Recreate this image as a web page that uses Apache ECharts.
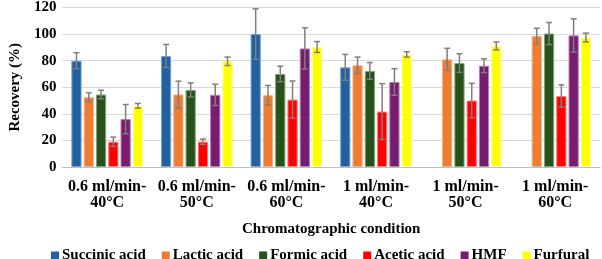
<!DOCTYPE html>
<html>
<head>
<meta charset="utf-8">
<script src="https://cdn.jsdelivr.net/npm/echarts@6/dist/echarts.min.js"></script>
<style>
  html, body { margin: 0; padding: 0; background: #fff; }
  #chart { width: 602px; height: 259px; }
</style>
</head>
<body>
<div id="chart"></div>
<script>
// 数据
const categories = [
  '0.6 ml/min-\n40°C', '0.6 ml/min-\n50°C', '0.6 ml/min-\n60°C',
  '1 ml/min-\n40°C', '1 ml/min-\n50°C', '1 ml/min-\n60°C'
];
const yTicks = [0, 20, 40, 60, 80, 100, 120];

const succinic = [80, 83.5, 100, 75, null, null];
const succinicErr = [6, 8.7, 19, 9.7, null, null];
const lactic = [52.5, 54.6, 54, 76.5, 81, 98.6];
const lacticErr = [3.3, 10, 7.4, 6.2, 8.3, 5.8];
const formic = [54.5, 58, 70, 72.3, 78.2, 100.4];
const formicErr = [3.2, 5.3, 5.8, 6.3, 7, 8.3];
const acetic = [19, 19, 50.7, 41.7, 50, 53.4];
const aceticErr = [3.5, 2, 14, 21, 13, 8.4];
const hmf = [36, 54.3, 89.2, 64, 76.2, 99];
const hmfErr = [11, 8, 15.5, 10, 5.2, 12.5];
const furfural = [46, 79.5, 90.3, 84.7, 91.1, 97.4];
const furfuralErr = [1.8, 3.2, 4.1, 2, 3, 3.3];

const seriesDefs = [
  { name: 'Succinic acid', values: succinic, err: succinicErr, color: '#245F9E', border: '#6FA8DC' },
  { name: 'Lactic acid', values: lactic, err: lacticErr, color: '#ED7D31', border: '#F4B183' },
  { name: 'Formic acid', values: formic, err: formicErr, color: '#27511A', border: '#7FA874' },
  { name: 'Acetic acid', values: acetic, err: aceticErr, color: '#FF0000', border: '#FF8080' },
  { name: 'HMF', values: hmf, err: hmfErr, color: '#781C6F', border: '#B880B2' },
  { name: 'Furfural', values: furfural, err: furfuralErr, color: '#FFFF00', border: '#FFFF99' }
];

const FONT = '"Liberation Serif", "Times New Roman", serif';
const CAT_GAP = 0.2;
const BAR_GAP = 0.2;

const chart = echarts.init(document.getElementById('chart'));

// 误差线数据: [类别, 低值, 高值, 系列序号]
const errData = [];
seriesDefs.forEach((s, k) => {
  s.values.forEach((v, i) => {
    if (v == null || s.err[i] == null) return;
    errData.push([i, v - s.err[i], v + s.err[i], k]);
  });
});

const n = seriesDefs.length;

const renderError = (params, api) => {
  const cat = api.value(0);
  const k = api.value(3);
  const lo = api.coord([cat, api.value(1)]);
  const hi = api.coord([cat, api.value(2)]);
  const catW = api.size([1, 0])[0];
  const used = catW * (1 - CAT_GAP);
  const w = used / (n + (n - 1) * BAR_GAP);
  const x = lo[0] + (k - (n - 1) / 2) * w * (1 + BAR_GAP);
  const cap = 3;
  const style = { stroke: '#7F7F7F', lineWidth: 1.5 };
  return {
    type: 'group',
    children: [
      { type: 'line', shape: { x1: x, y1: lo[1], x2: x, y2: hi[1] }, style },
      { type: 'line', shape: { x1: x - cap, y1: lo[1], x2: x + cap, y2: lo[1] }, style },
      { type: 'line', shape: { x1: x - cap, y1: hi[1], x2: x + cap, y2: hi[1] }, style }
    ]
  };
};

const option = {
  animation: false,
  textStyle: { fontFamily: FONT },
  grid: { left: 48, right: 2, top: 7, bottom: 92 },
  legend: {
    data: seriesDefs.map(s => s.name),
    left: 46,
    top: 243,
    itemWidth: 8,
    itemHeight: 8,
    itemGap: 16,
    icon: 'rect',
    itemStyle: { borderWidth: 0 },
    textStyle: { fontFamily: FONT, fontSize: 15, fontWeight: 'bold', color: '#000', padding: [0, 0, 0, -2] }
  },
  xAxis: {
    type: 'category',
    data: categories,
    name: 'Chromatographic condition',
    nameLocation: 'middle',
    nameGap: 55,
    nameTextStyle: { fontFamily: FONT, fontSize: 15, fontWeight: 'bold', color: '#000' },
    axisTick: { show: false },
    axisLine: { lineStyle: { color: '#BFBFBF' } },
    axisLabel: { fontFamily: FONT, fontSize: 16, fontWeight: 'bold', color: '#000', margin: 12, lineHeight: 16, interval: 0 }
  },
  yAxis: {
    type: 'value',
    min: yTicks[0],
    max: yTicks[yTicks.length - 1],
    interval: yTicks[1] - yTicks[0],
    name: 'Recovery (%)',
    nameLocation: 'middle',
    nameGap: 38,
    nameTextStyle: { fontFamily: FONT, fontSize: 15, fontWeight: 'bold', color: '#000' },
    axisLine: { show: false },
    axisTick: { show: false },
    axisLabel: { fontFamily: FONT, fontSize: 15, fontWeight: 'bold', color: '#000', margin: 6 },
    splitLine: { lineStyle: { color: '#D9D9D9' } }
  },
  series: [
    ...seriesDefs.map(s => ({
      name: s.name,
      type: 'bar',
      data: s.values.map(v => (v == null ? '-' : v)),
      barCategoryGap: (CAT_GAP * 100) + '%',
      barGap: (BAR_GAP * 100) + '%',
      itemStyle: { color: s.color, borderColor: s.border, borderWidth: 1 }
    })),
    {
      name: 'error',
      type: 'custom',
      renderItem: renderError,
      data: errData,
      z: 10,
      silent: true
    }
  ]
};

chart.setOption(option);
</script>
</body>
</html>
